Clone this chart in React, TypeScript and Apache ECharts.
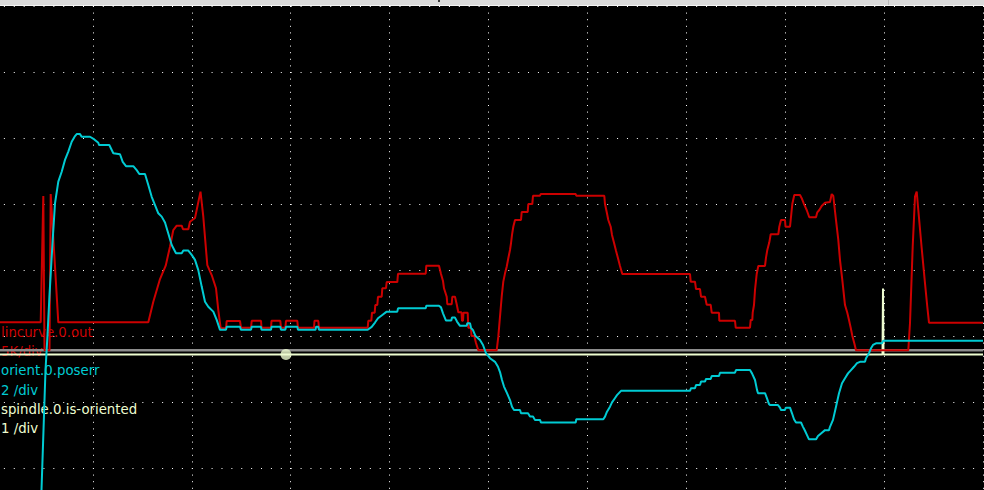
import React, { useEffect, useRef } from "react";
import * as echarts from "echarts";

// Samples (time axis: 98.9 samples per division) and values in each channel's units
const RED_POINTS: [number, number][] = [
  [0, 2120], [46.7, 2120], [49.3, 11690], [50.5, 0], [55.5, 0], [56.7, 11840], [64.3, 2120],
  [154.3, 2120], [159.3, 3680], [166, 5400], [171.7, 6410], [176, 7850], [179.3, 9110],
  [182.7, 9440], [187.7, 9440], [189, 9170], [194.3, 9170], [196, 9740], [201, 10020],
  [206.5, 12020], [209.3, 10120], [213.3, 6460], [217.7, 5700], [222, 4700], [224.3, 3050],
  [226.7, 1670], [232, 1670], [232.7, 2220], [246, 2220], [247, 1710], [257, 1710],
  [257.7, 2240], [267, 2240], [267.5, 1710], [277, 1710], [277.5, 2240], [286.3, 2240],
  [287, 1710], [291.3, 1710], [292, 2240], [303.3, 2240], [304, 1710], [320, 1710],
  [320.5, 2240], [324.3, 2240], [325, 1710], [373.7, 1710], [374.3, 2240], [377.3, 2240],
  [378, 2850], [380.7, 2850], [381.3, 3430], [383.3, 3430], [384, 4060], [387.7, 4060],
  [388.3, 4700], [392, 4700], [392.7, 5170], [403.3, 5170], [404, 5800], [431.7, 5800],
  [432.3, 6410], [445, 6410], [447, 5780], [449, 5250], [450, 4700], [452.7, 4060],
  [453.3, 3490], [457.7, 3490], [458.3, 4060], [461, 4060], [462.7, 3490], [464.3, 2880],
  [467.5, 2880], [468, 2240], [469, 2240], [469.5, 2850], [473.7, 2850], [474.3, 1710],
  [477, 1710], [477.5, 1080], [480.3, 1080], [482, 550], [484.3, 0], [502.7, 0],
  [504.3, 1030], [506, 2550], [507.7, 4060], [509.3, 5200], [511, 5830], [512.7, 6330],
  [514.3, 6970], [516, 7600], [517, 8110], [518, 8740], [519.3, 9360], [521, 9870],
  [527, 9870], [527.7, 10480], [533.7, 10480], [534.3, 11080], [538.3, 11080], [539, 11710],
  [546, 11710], [546.7, 11840], [581.7, 11840], [582.3, 11710], [610.3, 11710], [611, 11080],
  [612.7, 10480], [614.3, 9870], [616.7, 9360], [618, 8740], [620, 8150], [622, 7550],
  [624, 6970], [626, 6390], [628.3, 5780], [696, 5780], [696.7, 5200], [701, 5200],
  [702, 4640], [706, 4640], [707, 4060], [711, 4060], [712.7, 3450], [716.7, 3450],
  [717.7, 2850], [725, 2850], [725.3, 2240], [741, 2240], [741.7, 1710], [756, 1710],
  [756.7, 2300], [758.3, 2300], [758.7, 2850], [760, 3430], [761, 4570], [762.7, 5780],
  [764.3, 6390], [771, 6390], [772, 7020], [773.3, 7600], [775.3, 8180], [776.7, 8790],
  [784.3, 8790], [785.3, 9360], [787, 9870], [791, 9870], [791.5, 9360], [796, 9360],
  [796.7, 9870], [798.3, 11080], [800.3, 11770], [806, 11770], [807.7, 11520], [810, 11080],
  [812.7, 10630], [815.3, 10080], [822, 10080], [823.3, 10450], [825.3, 10630], [827.7, 10930],
  [831, 11180], [836, 11240], [837.7, 11840], [839.3, 11690], [842, 9870], [844.3, 8360],
  [846, 6840], [848.3, 5330], [851, 3430], [853.3, 2850], [855, 2300], [856.7, 1710],
  [858.3, 1110], [860.3, 530], [862, 0], [914.3, 0], [916, 2070], [918.7, 7850],
  [921, 11640], [922.7, 12020], [924.3, 10630], [927.7, 7730], [931, 5080], [933.3, 3300],
  [935, 2090], [989, 2090],
];

const CYAN_POINTS: [number, number][] = [
  [0, -7.86], [44.5, -7.86], [47.5, -4.52], [49.5, -2.71], [51.5, -0.89], [53.5, 0.17],
  [55.5, 1.38], [57.5, 2.45], [59.3, 3.35], [61, 4.16], [64.3, 4.82], [67.7, 5.12],
  [71, 5.48], [74.3, 5.73], [77.7, 6.03], [81, 6.2], [82.7, 6.26], [86, 6.26], [87.7, 6.18],
  [96, 6.18], [100.3, 6.1], [104.3, 6.0], [105, 5.93], [115.3, 5.93], [119.3, 5.68],
  [126, 5.65], [128.7, 5.42], [132, 5.29], [139.3, 5.29], [142.7, 5.17], [145.3, 5.05],
  [151, 5.05], [154.3, 4.72], [157.7, 4.36], [161, 4.11], [164.3, 3.86], [167.7, 3.76],
  [171, 3.58], [174.3, 3.25], [177.7, 2.9], [182, 2.65], [187.7, 2.65], [189.3, 2.73],
  [194.3, 2.73], [197.7, 2.6], [201, 2.45], [204.3, 2.14], [207.7, 1.64], [211, 1.18],
  [214.3, 1.03], [219.3, 0.88], [222.7, 0.63], [226, 0.33], [232, 0.33], [232.7, 0.42],
  [246, 0.42], [247, 0.33], [257, 0.33], [257.7, 0.42], [267, 0.42], [267.5, 0.33],
  [277, 0.33], [277.5, 0.42], [286.3, 0.42], [287, 0.33], [291.3, 0.33], [292, 0.42],
  [303.3, 0.42], [304, 0.33], [321.5, 0.33], [322, 0.42], [324.3, 0.42], [325, 0.33],
  [373.7, 0.33], [377.7, 0.42], [381, 0.55], [384, 0.68], [388.3, 0.78], [392.7, 0.88],
  [403.3, 0.88], [404, 0.98], [431.7, 0.98], [432.3, 1.06], [445, 1.06], [447, 1.01],
  [449, 0.83], [452, 0.61], [457.3, 0.61], [458, 0.7], [461, 0.7], [463, 0.58], [466, 0.45],
  [472.7, 0.45], [473.3, 0.53], [476, 0.53], [477, 0.39], [479, 0.32], [481.5, 0.14],
  [486, 0.02], [489, -0.13], [492, -0.38], [496, -0.53], [501, -0.64], [504, -0.79],
  [506, -0.95], [508, -1.19], [510, -1.39], [513, -1.59], [516, -1.8], [518, -2.0],
  [520, -2.1], [526, -2.1], [527, -2.2], [534, -2.2], [536, -2.3], [539, -2.3], [541, -2.4],
  [546, -2.4], [547, -2.48], [581.7, -2.48], [582.3, -2.38], [609.3, -2.38], [611, -2.3],
  [613, -2.15], [616, -2.0], [618, -1.87], [620.7, -1.75], [623, -1.65], [627, -1.52],
  [696, -1.52], [697, -1.44], [701, -1.44], [702, -1.34], [706, -1.34], [707, -1.24],
  [711, -1.24], [712, -1.16], [716.7, -1.16], [717.7, -1.07], [725, -1.07], [726, -0.97],
  [741, -0.97], [742, -0.89], [756, -0.89], [758, -0.99], [761, -1.19], [763, -1.49],
  [764, -1.59], [771, -1.59], [773, -1.75], [775, -1.92], [776, -1.95], [784, -1.95],
  [786, -2.03], [787, -2.1], [791, -2.1], [791.7, -2.03], [796, -2.03], [798, -2.2],
  [800, -2.38], [802, -2.48], [807, -2.48], [809, -2.61], [811, -2.73], [813, -2.86],
  [815, -2.99], [822, -2.99], [824, -2.89], [827, -2.81], [831, -2.71], [835, -2.71],
  [836, -2.61], [839, -2.4], [842, -2.0], [845, -1.59], [848, -1.29], [851, -1.14],
  [854, -0.99], [857, -0.89], [860, -0.79], [863, -0.68], [866, -0.64], [871, -0.64],
  [872, -0.53], [875, -0.38], [877, -0.23], [879, -0.13], [882, -0.08], [888, -0.08],
  [889, -0.01], [890, 0], [989, 0],
];

const ORIENT_POINTS: [number, number][] = [
  [0, 0], [888.5, 0], [889, 1], [889.5, 0], [989, 0],
];

const TRIGGER_SAMPLE = 292;

const CHANNEL_NAMES = ["lincurve.0.out", "orient.0.poserr", "spindle.0.is-oriented"];
const SCALE_LABELS = ["5K/div", "2 /div", "1 /div"];
const UNITS_PER_DIV = [5000, 2, 1];
const OFFSET_DIV = [-0.2167, -0.0712, -0.2803];
const COLORS = ["#cc0000", "#00cbd3", "#eefdd0"];

const TOTAL_SAMPLES = 989;
const SAMPLES_PER_DIV = 98.9;

export default function App() {
  const ref = useRef<HTMLDivElement>(null);

  useEffect(() => {
    if (!ref.current) return;
    const chart = echarts.init(ref.current, null, { renderer: "svg" });

    const toDiv = (pts: [number, number][], ch: number) =>
      pts.map(([t, v]) => [t, OFFSET_DIV[ch] + v / UNITS_PER_DIV[ch]]);

    const font = { fontFamily: "DejaVu Sans", fontSize: 13.3 };
    const labels: any[] = [];
    CHANNEL_NAMES.forEach((name, i) => {
      labels.push({
        type: "text",
        x: 1,
        y: 332.4 + i * 38.4,
        z: 1,
        style: { text: name, fill: COLORS[i], ...font, verticalAlign: "middle" },
      });
      labels.push({
        type: "text",
        x: 1,
        y: 351.6 + i * 38.4,
        z: 1,
        style: { text: SCALE_LABELS[i], fill: COLORS[i], ...font, verticalAlign: "middle" },
      });
    });

    const lineSeries = (data: number[][], color: string, z: number, width = 2) => ({
      type: "line",
      data,
      symbol: "none",
      silent: true,
      z,
      lineStyle: { color, width },
    });

    chart.setOption({
      animation: false,
      backgroundColor: "#000000",
      grid: {
        left: -6,
        top: 6,
        width: 989,
        height: 528,
        outerBoundsMode: "none",
        containLabel: false,
      },
      xAxis: {
        type: "value",
        min: 0,
        max: TOTAL_SAMPLES,
        interval: SAMPLES_PER_DIV,
        axisLine: { show: false },
        axisTick: { show: false },
        axisLabel: { show: false },
        splitLine: { show: true, lineStyle: { color: "#ffffff", width: 1, type: [1, 5.6] } },
      },
      yAxis: {
        type: "value",
        min: -3,
        max: 5,
        interval: 1,
        axisLine: { show: false },
        axisTick: { show: false },
        axisLabel: { show: false },
        splitLine: { show: true, lineStyle: { color: "#ffffff", width: 1, type: [1, 8.89] } },
      },
      series: [
        lineSeries(
          [
            [0, OFFSET_DIV[0]],
            [TOTAL_SAMPLES, OFFSET_DIV[0]],
          ],
          "#8c8c8c",
          2,
          2.5
        ),
        lineSeries(toDiv(ORIENT_POINTS, 2), COLORS[2], 3),
        lineSeries(toDiv(RED_POINTS, 0), COLORS[0], 4),
        lineSeries(toDiv(CYAN_POINTS, 1), COLORS[1], 5),
        {
          type: "scatter",
          data: [[TRIGGER_SAMPLE, OFFSET_DIV[2]]],
          symbol: "circle",
          symbolSize: 11,
          silent: true,
          z: 6,
          itemStyle: { color: COLORS[2] },
        },
      ],
      graphic: [
        ...labels,
        { type: "rect", z: 10, shape: { x: 0, y: 0, width: 984, height: 5 }, style: { fill: "#dadada" } },
        { type: "rect", z: 10, shape: { x: 0, y: 5, width: 984, height: 1 }, style: { fill: "#f4f4f4" } },
        { type: "rect", z: 11, shape: { x: 438, y: 0, width: 2, height: 2 }, style: { fill: "#3a3a3a" } },
        { type: "rect", z: 11, shape: { x: 888, y: 0, width: 1, height: 5 }, style: { fill: "#bcbcbc" } },
      ],
    });

    return () => chart.dispose();
  }, []);

  return (
    <div
      ref={ref}
      style={{ position: "fixed", left: 0, top: 0, width: 984, height: 490, background: "#000" }}
    />
  );
}
